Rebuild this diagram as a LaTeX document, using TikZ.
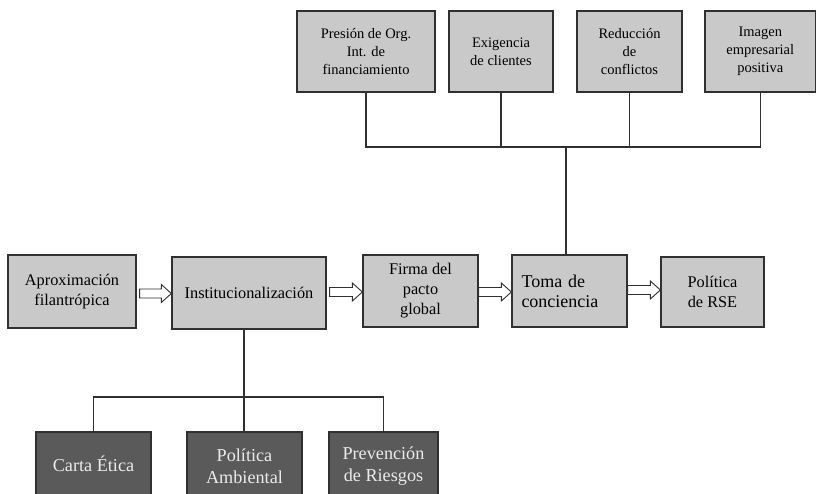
\documentclass[tikz,border=0pt]{standalone}
\usepackage{fontspec}
\setmainfont{Liberation Serif}
\usetikzlibrary{calc}
\definecolor{boxgray}{HTML}{C9C9C9}
\definecolor{boxdark}{HTML}{5A5A5A}
\definecolor{edge}{HTML}{303030}
\begin{document}
\begin{tikzpicture}[x=1pt,y=-1pt,
  lightbox/.style={draw=edge, line width=1.3pt, fill=boxgray, inner sep=2pt, align=center, text=black},
  darkbox/.style={draw=edge, line width=1.3pt, fill=boxdark, inner sep=2pt, text=white!92!black, align=center,
    font=\fontsize{18.2}{22}\selectfont},
  topfont/.style={font=\fontsize{14.5}{18}\selectfont},
  midfont/.style={font=\fontsize{16.3}{20}\selectfont},
  link/.style={draw=edge, line width=1.1pt},
  blockarrow/.style={draw=edge, line width=0.9pt, fill=white, to path={
      ($(\tikztostart)+(0,-4.5)$) -- ($(\tikztotarget)+(-10,-4.5)$) -- ($(\tikztotarget)+(-10,-9)$)
      -- (\tikztotarget) -- ($(\tikztotarget)+(-10,9)$) -- ($(\tikztotarget)+(-10,4.5)$)
      -- ($(\tikztostart)+(0,4.5)$) -- cycle}}
]
\clip (0,0) rectangle (817,494);
\fill[white] (0,0) rectangle (817,494);

% upper row: drivers
\node[lightbox, topfont, minimum width=138, minimum height=81] (org) at (366,51.5)
  {Presión de Org.\\Int. de\\financiamiento};
\node[lightbox, topfont, minimum width=104, minimum height=81] (cli) at (501,51.5)
  {Exigencia\\de clientes};
\node[lightbox, topfont, minimum width=105, minimum height=81] (con) at (629.5,51.5)
  {Reducción\\de\\conflictos};
\node[lightbox, topfont, minimum width=110.5, minimum height=81] (ima) at (760.25,51.5)
  {Imagen\\empresarial\\positiva};

% middle row: stages
\node[lightbox, midfont, minimum width=128, minimum height=73] (apr) at (72,291.5)
  {Aproximación\\filantrópica};
\node[lightbox, midfont, minimum width=154, minimum height=72] (ins) at (249,293)
  {Institucionalización};
\node[lightbox, midfont, minimum width=115, minimum height=72] (fir) at (420.5,291)
  {Firma del\\pacto\\global};
\node[lightbox, font=\fontsize{18}{20}\selectfont, align=left, minimum width=115, minimum height=72,
  text width=96] (tom) at (569.5,291)
  {Toma de\\conciencia};
\node[lightbox, midfont, minimum width=103, minimum height=70] (rse) at (712.5,292)
  {Política\\de RSE};

% lower row: instruments
\node[darkbox, minimum width=115, minimum height=68] (eti) at (93.5,466) {\raisebox{4pt}{Carta Ética}};
\node[darkbox, minimum width=115, minimum height=68] (amb) at (244.5,466) {Política\\Ambiental};
\node[darkbox, minimum width=109, minimum height=68] (rie) at (383.5,466) {Prevención\\de Riesgos};

% bus lines
\coordinate (topbus) at (566,147);
\coordinate (lowbus) at (244,397);
\draw[link] (org.south) |- (topbus);
\draw[link] (ima.south) |- (topbus);
\draw[link] (cli.south) -- (cli.south |- topbus);
\draw[link] (con.south) -- (con.south |- topbus);
\draw[link] (topbus) -- (tom.north -| topbus);

\draw[link] (ins.south -| lowbus) -- (amb.north -| lowbus);
\draw[link] (eti.north) |- (lowbus);
\draw[link] (rie.north) |- (lowbus);

% block arrows between stages
\draw[blockarrow] ([xshift=3pt]apr.east |- 0,293.5) to (ins.west |- 0,293.5);
\draw[blockarrow] ([xshift=3pt]ins.east |- 0,292) to (fir.west |- 0,292);
\draw[blockarrow] (fir.east |- 0,292) to (tom.west |- 0,292);
\draw[blockarrow] (tom.east |- 0,290) to (rse.west |- 0,290);
\end{tikzpicture}
\end{document}
